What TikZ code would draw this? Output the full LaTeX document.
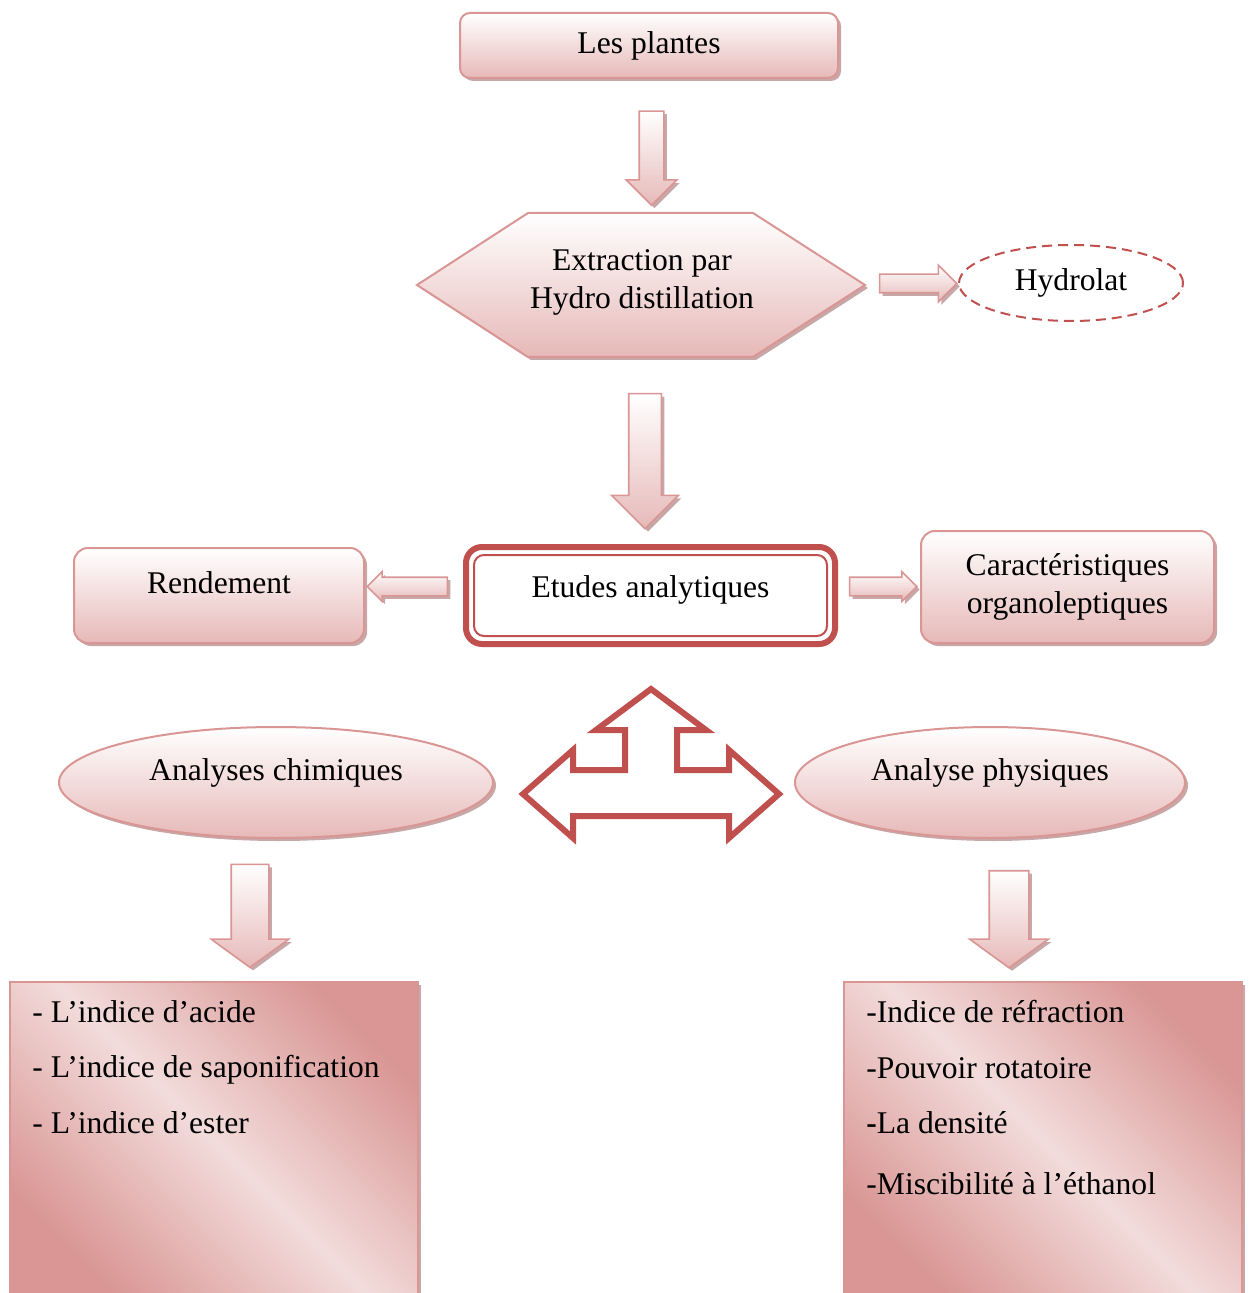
\documentclass[tikz,border=0pt]{standalone}
\usepackage{fontspec}
\setmainfont{Liberation Serif}
\usetikzlibrary{shapes.geometric, shapes.arrows, shadows, positioning}

\definecolor{rosebord}{HTML}{D99694}
\definecolor{rosefond}{HTML}{E6B9B8}
\definecolor{roseclair}{HTML}{F2DCDB}
\definecolor{rougefonce}{HTML}{C0504D}
\definecolor{ombre}{RGB}{185,145,145}

\tikzset{
  ombrage/.style={drop shadow={shadow xshift=1.5pt, shadow yshift=-1.5pt, fill=ombre, opacity=0.8}},
  boite/.style={draw=rosebord, line width=1pt, top color=white, bottom color=rosefond, ombrage, align=center},
  bulle/.style={ellipse, draw=rosebord, line width=1pt, top color=white, bottom color=rosefond, ombrage, align=center},
  hexa/.style={draw=rosebord, line width=1pt, top color=white, bottom color=rosefond, ombrage},
  liste/.style={draw=rosebord, line width=1pt, top color=rosebord, bottom color=rosebord, middle color=roseclair, shading angle=-45, ombrage},
  fleche/.style={single arrow, draw=rosebord, line width=0.8pt, top color=white, bottom color=rosefond, ombrage, single arrow tip angle=90},
  textliste/.style={anchor=north west, inner sep=0pt, align=left, font=\fontsize{15.8}{27.75}\selectfont},
}

\begin{document}
\begin{tikzpicture}[x=0.5pt, y=-0.5pt, font=\fontsize{15.8}{19}\selectfont]
  \useasboundingbox (0,0) rectangle (1251,1293);

  % Etape 1
  \node[boite, rounded corners=5pt, minimum width=189pt, minimum height=32.5pt] (plantes) at (649,45.5) {Les plantes};
  \node[fleche, shape border rotate=270, inner sep=5.75pt, single arrow head extend=6.5pt, minimum height=47pt] (f1) at (651.5,152) {};

  % Extraction
  \path[hexa] (417,285) -- (528,213) -- (753,213) -- (865,285) -- (753,357) -- (528,357) -- cycle;
  \node[align=center] (extraction) at (642,282) {Extraction par\\Hydro distillation};
  \node[fleche, inner sep=4.25pt, single arrow head extend=4.5pt, minimum height=38.5pt] (f2) at (913.5,283.5) {};
  \node[ellipse, draw=rougefonce, line width=1pt, dash pattern=on 5pt off 3pt, minimum width=112pt, minimum height=38pt] (hydrolat) at (1071,283) {Hydrolat};
  \node[fleche, shape border rotate=270, inner sep=7.75pt, single arrow head extend=8.5pt, minimum height=67.5pt] (f3) at (645,453) {};

  % Etudes analytiques
  \node[draw=rougefonce, line width=3pt, rounded corners=8pt, minimum width=184.5pt, minimum height=48.5pt, text depth=9pt] (etudes) at (650.5,595.5) {Etudes analytiques};
  \draw[rougefonce, line width=1pt, rounded corners=5pt] ([shift={(5.5pt,-5.5pt)}]etudes.north west) rectangle ([shift={(-5.5pt,5.5pt)}]etudes.south east);

  \node[boite, rounded corners=7pt, minimum width=145pt, minimum height=47.5pt, text depth=12.5pt] (rendement) at (219,595.5) {Rendement};
  \node[fleche, shape border rotate=180, inner sep=4.25pt, single arrow head extend=2.75pt, minimum height=40pt] (f4) at (412,586.5) {};
  \node[boite, rounded corners=7pt, minimum width=146.5pt, minimum height=56pt] (caracteristiques) at (1067.5,587) {Caractéristiques\\organoleptiques};
  \node[fleche, inner sep=4.25pt, single arrow head extend=2.75pt, minimum height=33.5pt] (f5) at (878.5,586.5) {};

  % Fleche a trois pointes
  \draw[rougefonce, line width=3pt, fill=white, line join=miter]
    (651,689) -- (706,730) -- (677,730) -- (677,770) -- (729,770) -- (729,750) -- (779,794)
    -- (729,838) -- (729,816) -- (573,816) -- (573,838) -- (523,794) -- (573,750)
    -- (573,770) -- (625,770) -- (625,730) -- (596,730) -- cycle;

  % Analyses
  \node[bulle, minimum width=217pt, minimum height=55.5pt, text depth=13pt] (chimiques) at (276,782.5) {Analyses chimiques};
  \node[bulle, minimum width=195pt, minimum height=55.5pt, text depth=13pt] (physiques) at (990,782.5) {Analyse physiques};
  \node[fleche, shape border rotate=270, single arrow tip angle=108, inner sep=9pt, single arrow head extend=10pt, minimum height=51.5pt] (f6) at (250,909) {};
  \node[fleche, shape border rotate=270, single arrow tip angle=108, inner sep=9.5pt, single arrow head extend=9.75pt, minimum height=48.5pt] (f7) at (1009,912) {};

  % Listes
  \node[liste, minimum width=204pt, minimum height=158pt] (listechim) at (214,1140) {};
  \node[textliste] (textechim) at (32,1000) {- L’indice d’acide\\- L’indice de saponification\\- L’indice d’ester};
  \node[liste, minimum width=199pt, minimum height=158pt] (listephys) at (1043,1140) {};
  \node[textliste] (textephys) at (866,1000) {-Indice de réfraction\\-Pouvoir rotatoire\\\textbf{-}La densité\\[2.5pt]-Miscibilité à l’éthanol};
\end{tikzpicture}
\end{document}
